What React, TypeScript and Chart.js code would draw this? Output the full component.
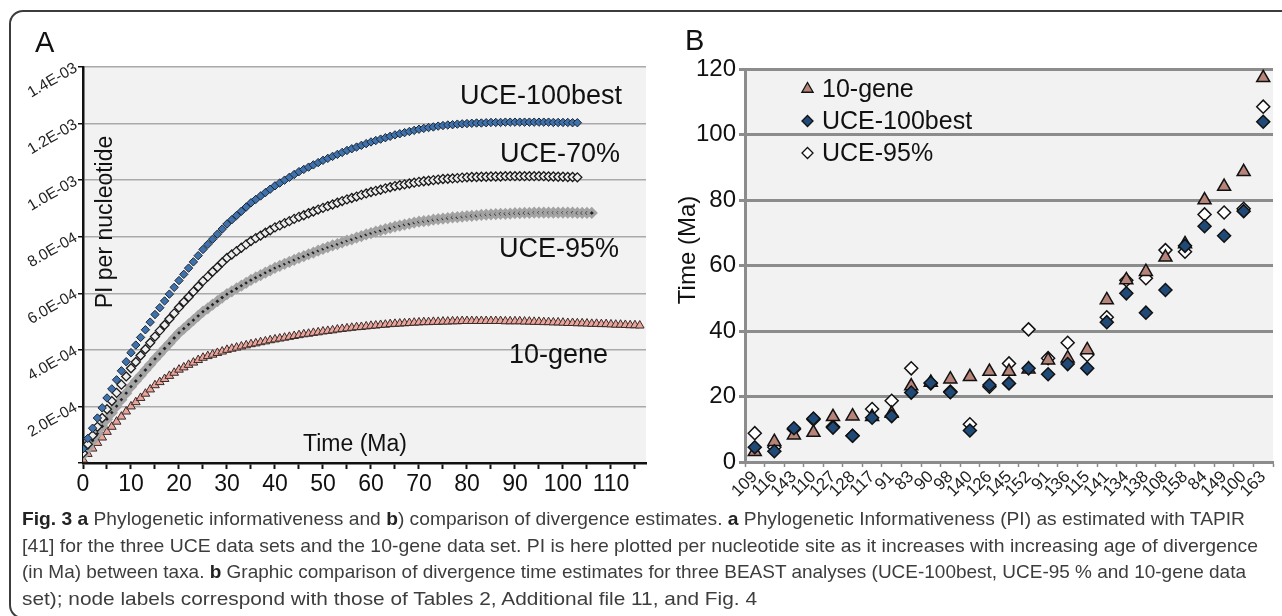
import React, { useEffect, useLayoutEffect, useRef } from 'react';
import { Chart, registerables } from 'chart.js';

Chart.register(...registerables);

const FAM = '"Liberation Sans", Arial, Helvetica, sans-serif';
const F = (size: number, weight = 'normal') => `${weight} ${size}px ${FAM}`;

// ---------- Panel A: phylogenetic informativeness (units of 1E-04), one value per Ma from 0 ----------
const piUce100best = [
  0.50, 0.87, 1.23, 1.59, 1.95, 2.30,
  2.62, 2.94, 3.26, 3.58, 3.90,
  4.17, 4.44, 4.71, 4.98, 5.25,
  5.49, 5.73, 5.97, 6.21, 6.45,
  6.67, 6.89, 7.11, 7.33, 7.55,
  7.73, 7.91, 8.09, 8.27, 8.45,
  8.60, 8.75, 8.90, 9.05, 9.20,
  9.32, 9.44, 9.56, 9.68, 9.80,
  9.90, 10.00, 10.10, 10.20, 10.30,
  10.38, 10.46, 10.54, 10.62, 10.70,
  10.77, 10.84, 10.91, 10.98, 11.05,
  11.11, 11.17, 11.23, 11.29, 11.35,
  11.40, 11.45, 11.50, 11.55, 11.60,
  11.64, 11.68, 11.72, 11.76, 11.80,
  11.83, 11.86, 11.88, 11.91, 11.93,
  11.95, 11.96, 11.98, 11.99, 12.00,
  12.01, 12.02, 12.02, 12.03, 12.04,
  12.04, 12.04, 12.05, 12.05, 12.05,
  12.05, 12.05, 12.05, 12.05, 12.05,
  12.05, 12.05, 12.04, 12.04, 12.04,
  12.04, 12.03, 12.03,
];

const piUce70 = [
  0.35, 0.66, 0.97, 1.28, 1.59, 1.90,
  2.19, 2.48, 2.77, 3.06, 3.35,
  3.57, 3.80, 4.02, 4.25, 4.47,
  4.68, 4.88, 5.09, 5.29, 5.50,
  5.69, 5.87, 6.06, 6.24, 6.43,
  6.59, 6.76, 6.92, 7.09, 7.25,
  7.37, 7.49, 7.61, 7.73, 7.85,
  7.95, 8.04, 8.14, 8.23, 8.33,
  8.40, 8.48, 8.55, 8.63, 8.70,
  8.76, 8.83, 8.89, 8.96, 9.02,
  9.08, 9.14, 9.20, 9.26, 9.32,
  9.37, 9.42, 9.48, 9.53, 9.58,
  9.62, 9.66, 9.71, 9.75, 9.79,
  9.82, 9.85, 9.88, 9.91, 9.94,
  9.96, 9.98, 10.00, 10.02, 10.04,
  10.05, 10.06, 10.07, 10.09, 10.10,
  10.11, 10.11, 10.12, 10.12, 10.13,
  10.13, 10.13, 10.14, 10.14, 10.14,
  10.14, 10.14, 10.14, 10.14, 10.14,
  10.14, 10.13, 10.13, 10.12, 10.12,
  10.11, 10.11, 10.10,
];

const piUce95 = [
  0.28, 0.53, 0.79, 1.04, 1.30, 1.55,
  1.78, 2.01, 2.24, 2.47, 2.70,
  2.90, 3.09, 3.29, 3.48, 3.68,
  3.86, 4.05, 4.23, 4.42, 4.60,
  4.75, 4.90, 5.05, 5.20, 5.35,
  5.47, 5.60, 5.72, 5.85, 5.97,
  6.07, 6.17, 6.27, 6.37, 6.47,
  6.56, 6.64, 6.73, 6.81, 6.90,
  6.97, 7.04, 7.11, 7.18, 7.25,
  7.31, 7.38, 7.44, 7.51, 7.57,
  7.63, 7.69, 7.74, 7.80, 7.86,
  7.91, 7.97, 8.02, 8.08, 8.13,
  8.18, 8.22, 8.27, 8.31, 8.36,
  8.39, 8.43, 8.46, 8.50, 8.53,
  8.55, 8.57, 8.60, 8.62, 8.64,
  8.66, 8.68, 8.69, 8.71, 8.73,
  8.74, 8.75, 8.77, 8.78, 8.79,
  8.80, 8.81, 8.81, 8.82, 8.83,
  8.83, 8.84, 8.84, 8.85, 8.85,
  8.85, 8.85, 8.85, 8.85, 8.85,
  8.85, 8.85, 8.84, 8.84, 8.84, 8.84,
];

const pi10gene = [
  0.12, 0.32, 0.51, 0.71, 0.90, 1.10,
  1.28, 1.46, 1.64, 1.82, 2.00,
  2.15, 2.30, 2.45, 2.60, 2.75,
  2.86, 2.97, 3.08, 3.19, 3.30,
  3.38, 3.47, 3.55, 3.64, 3.72,
  3.78, 3.83, 3.89, 3.94, 4.00,
  4.04, 4.08, 4.12, 4.16, 4.20,
  4.23, 4.27, 4.30, 4.34, 4.37,
  4.40, 4.43, 4.46, 4.49, 4.52,
  4.55, 4.57, 4.60, 4.62, 4.65,
  4.67, 4.69, 4.72, 4.74, 4.76,
  4.78, 4.80, 4.81, 4.83, 4.85,
  4.86, 4.88, 4.89, 4.91, 4.92,
  4.93, 4.94, 4.95, 4.96, 4.97,
  4.98, 4.98, 4.99, 4.99, 5.00,
  5.00, 5.01, 5.01, 5.02, 5.02,
  5.02, 5.02, 5.02, 5.02, 5.02,
  5.02, 5.02, 5.01, 5.01, 5.01,
  5.01, 5.00, 5.00, 4.99, 4.99,
  4.98, 4.98, 4.97, 4.97, 4.96,
  4.95, 4.95, 4.94, 4.94, 4.93,
  4.92, 4.92, 4.91, 4.91, 4.90,
  4.89, 4.89, 4.88, 4.87, 4.87, 4.86,
];

const piTickLabels = ['', '2.0E-04', '4.0E-04', '6.0E-04', '8.0E-04', '1.0E-03', '1.2E-03', '1.4E-03'];
const seriesNamesA = ['UCE-100best', 'UCE-70%', 'UCE-95%', '10-gene'];

// ---------- Panel B: divergence time estimates (Ma) per node ----------
const nodeLabels = ['109', '116', '143', '110', '127', '128', '117', '91', '83', '90', '98', '140', '126', '145', '152', '91', '136', '115', '141', '134', '138', '108', '158', '84', '149', '100', '163'];
const time10gene = [3.1, 6.2, 8.2, 9.0, 13.8, 14.0, 13.8, 14.8, 23.2, 24.3, 25.3, 26.0, 27.6, 27.6, 28.3, 31.1, 31.7, 34.2, 49.5, 55.6, 58.1, 62.5, 66.6, 80.0, 84.1, 88.6, 117.3];
const timeUce100best = [4.5, 3.3, 10.3, 13.3, 10.5, 8.0, 13.5, 14.0, 21.2, 24.2, 21.3, 9.6, 23.5, 24.0, 28.6, 26.8, 29.9, 28.6, 42.7, 51.5, 45.6, 52.5, 66.0, 72.0, 69.1, 76.6, 103.9];
const timeUce95 = [8.8, 4.5, 10.0, 13.0, 10.8, 8.0, 16.2, 18.7, 28.6, 24.0, 21.5, 11.5, 23.0, 30.1, 40.5, 31.7, 36.4, 32.7, 44.2, 55.5, 56.1, 64.7, 64.2, 75.6, 76.2, 77.3, 108.5];
const seriesNamesB = ['10-gene', 'UCE-100best', 'UCE-95%'];

// ---------- Caption ----------
const captionLines: [string, boolean][][] = [
  [['Fig. 3 a', true], [' Phylogenetic informativeness and ', false], ['b', true], [') comparison of divergence estimates. ', false], ['a', true], [' Phylogenetic Informativeness (PI) as estimated with TAPIR', false]],
  [['[41] for the three UCE data sets and the 10-gene data set. PI is here plotted per nucleotide site as it increases with increasing age of divergence', false]],
  [['(in Ma) between taxa. ', false], ['b', true], [' Graphic comparison of divergence time estimates for three BEAST analyses (UCE-100best, UCE-95 % and 10-gene data', false]],
  [['set); node labels correspond with those of Tables 2, Additional file 11, and Fig. 4', false]],
];
const captionLineWidths = [1223, 1236, 1224, 735];

type TextItem = { text: string; x: number; y: number; font: string; align?: CanvasTextAlign; baseline?: CanvasTextBaseline; rotate?: number; color?: string };

const textPlugin = (items: TextItem[]) => ({
  id: 'extraText',
  afterDraw(chart: any) {
    const ctx = chart.ctx as CanvasRenderingContext2D;
    for (const t of items) {
      ctx.save();
      ctx.font = t.font;
      ctx.fillStyle = t.color || '#111';
      ctx.textAlign = t.align || 'left';
      ctx.textBaseline = t.baseline || 'alphabetic';
      ctx.translate(t.x, t.y);
      if (t.rotate) ctx.rotate(t.rotate);
      ctx.fillText(t.text, 0, 0);
      ctx.restore();
    }
  },
});

const bgPlugin = (color: string) => ({
  id: 'plotBg',
  beforeDraw(chart: any) {
    const { ctx, chartArea } = chart;
    if (!chartArea) return;
    ctx.save();
    ctx.fillStyle = color;
    ctx.fillRect(chartArea.left, chartArea.top, chartArea.right - chartArea.left, chartArea.bottom - chartArea.top);
    ctx.restore();
  },
});

function drawMarker(ctx: CanvasRenderingContext2D, style: string, x: number, y: number, r: number, fill: string, stroke: string, lw: number) {
  ctx.beginPath();
  if (style === 'triangle') {
    ctx.moveTo(x, y - r);
    ctx.lineTo(x + r * 0.866, y + r * 0.5);
    ctx.lineTo(x - r * 0.866, y + r * 0.5);
  } else {
    ctx.moveTo(x, y - r);
    ctx.lineTo(x + r, y);
    ctx.lineTo(x, y + r);
    ctx.lineTo(x - r, y);
  }
  ctx.closePath();
  ctx.fillStyle = fill;
  ctx.fill();
  ctx.lineWidth = lw;
  ctx.strokeStyle = stroke;
  ctx.stroke();
}

const legendPluginB = {
  id: 'legendB',
  afterDraw(chart: any) {
    const ctx = chart.ctx as CanvasRenderingContext2D;
    const styles = [
      { shape: 'triangle', r: 6.5, fill: '#b7847a', y: 97 },
      { shape: 'rectRot', r: 5.5, fill: '#1f4a78', y: 129 },
      { shape: 'rectRot', r: 5.5, fill: '#ffffff', y: 161 },
    ];
    seriesNamesB.forEach((name, i) => {
      const s = styles[i];
      ctx.save();
      drawMarker(ctx, s.shape, 147.5, s.y - 8, s.r, s.fill, '#111', 1.3);
      ctx.font = F(25);
      ctx.fillStyle = '#111';
      ctx.textAlign = 'left';
      ctx.textBaseline = 'alphabetic';
      ctx.fillText(name, 162, s.y);
      ctx.restore();
    });
  },
};

function configA(): any {
  const toPts = (arr: number[]) => arr.map((v, i) => ({ x: i, y: v }));
  return {
    type: 'scatter',
    data: {
      datasets: [
        { label: seriesNamesA[0], data: toPts(piUce100best), pointStyle: 'rectRot', pointRadius: 4.2, backgroundColor: '#3f72ad', borderColor: '#1a2633', borderWidth: 1, order: 0 },
        { label: seriesNamesA[1], data: toPts(piUce70), pointStyle: 'rectRot', pointRadius: 4.5, backgroundColor: '#eeeeee', borderColor: '#1a1a1a', borderWidth: 1.3, order: 1 },
        { label: seriesNamesA[2], data: toPts(piUce95), pointStyle: 'rectRot', pointRadius: 4, backgroundColor: '#222222', borderColor: '#a3a3a3', borderWidth: 3, order: 2 },
        { label: seriesNamesA[3], data: toPts(pi10gene), pointStyle: 'triangle', pointRadius: 5, backgroundColor: '#e9a49b', borderColor: '#3a2a28', borderWidth: 1, order: 3 },
      ],
    },
    options: {
      responsive: false,
      animation: false,
      devicePixelRatio: 1,
      layout: { padding: { top: 67, right: 14, left: 0, bottom: 0 } },
      plugins: { legend: { display: false }, tooltip: { enabled: false } },
      elements: { point: { hoverRadius: 4 } },
      scales: {
        x: {
          type: 'linear', min: 0, max: 117.3,
          ticks: {
            stepSize: 5, autoSkip: false, includeBounds: false, maxRotation: 0, minRotation: 0, padding: 2,
            color: '#111', font: { family: FAM, size: 23 },
            callback: (v: number) => (v % 10 === 0 ? String(v) : ''),
          },
          grid: { drawOnChartArea: false, drawTicks: true, tickLength: 6, tickColor: '#111', tickWidth: 2 },
          border: { display: true, color: '#111', width: 2.5 },
          afterFit: (s: any) => { s.height = 42; },
        },
        y: {
          min: 0, max: 14,
          ticks: {
            stepSize: 2, minRotation: 30, maxRotation: 30, padding: 2,
            color: '#222', font: { family: FAM, size: 15.5 },
            callback: (v: number) => piTickLabels[Math.round(v / 2)] ?? '',
          },
          grid: { color: '#a9a9a9', lineWidth: 1.5, tickLength: 5, tickColor: '#111', tickWidth: 1.5 },
          border: { color: '#111', width: 2.5 },
          afterFit: (s: any) => { s.width = 83; },
        },
      },
    },
    plugins: [
      bgPlugin('#f2f2f2'),
      textPlugin([
        { text: 'A', x: 35, y: 52, font: F(29) },
        { text: seriesNamesA[0], x: 622, y: 104, font: F(27), align: 'right' },
        { text: seriesNamesA[1], x: 620, y: 162, font: F(27), align: 'right' },
        { text: seriesNamesA[2], x: 619, y: 257, font: F(27), align: 'right' },
        { text: seriesNamesA[3], x: 608, y: 363, font: F(27), align: 'right' },
        { text: 'Time (Ma)', x: 355, y: 451, font: F(23), align: 'center' },
        { text: 'PI per nucleotide', x: 106, y: 222, font: F(23), align: 'center', baseline: 'middle', rotate: -Math.PI / 2 },
      ]),
    ],
  };
}

function configB(): any {
  return {
    type: 'line',
    data: {
      labels: nodeLabels,
      datasets: [
        { label: seriesNamesB[1], data: timeUce100best, showLine: false, pointStyle: 'rectRot', pointRadius: 6.5, backgroundColor: '#1f4a78', borderColor: '#111', borderWidth: 1.5, order: 0 },
        { label: seriesNamesB[0], data: time10gene, showLine: false, pointStyle: 'triangle', pointRadius: 7.5, backgroundColor: '#b7847a', borderColor: '#111', borderWidth: 1.5, order: 1 },
        { label: seriesNamesB[2], data: timeUce95, showLine: false, pointStyle: 'rectRot', pointRadius: 6.5, backgroundColor: '#ffffff', borderColor: '#111', borderWidth: 1.5, order: 2 },
      ],
    },
    options: {
      responsive: false,
      animation: false,
      devicePixelRatio: 1,
      layout: { padding: { top: 69, right: 9, left: 0, bottom: 0 } },
      plugins: { legend: { display: false }, tooltip: { enabled: false } },
      scales: {
        x: {
          type: 'category', offset: true,
          ticks: { autoSkip: false, minRotation: 45, maxRotation: 45, padding: 0, color: '#222', font: { family: FAM, size: 17 } },
          grid: { drawOnChartArea: false, tickLength: 5, tickColor: '#8a8a8a', tickWidth: 1.5, offset: true },
          border: { color: '#8c8c8c', width: 3 },
          afterFit: (s: any) => { s.height = 48; },
        },
        y: {
          min: 0, max: 120,
          ticks: { stepSize: 20, padding: 3, color: '#111', font: { family: FAM, size: 24 } },
          grid: { color: '#8c8c8c', lineWidth: 3, tickLength: 6, tickColor: '#8c8c8c', tickWidth: 3 },
          border: { color: '#8c8c8c', width: 3 },
          afterFit: (s: any) => { s.width = 85; },
        },
      },
    },
    plugins: [
      bgPlugin('#f2f2f2'),
      legendPluginB,
      textPlugin([
        { text: 'B', x: 25, y: 50, font: F(29) },
        { text: 'Time (Ma)', x: 28, y: 250, font: F(24), align: 'center', baseline: 'middle', rotate: -Math.PI / 2 },
      ]),
    ],
  };
}

function Caption() {
  const refs = useRef<(HTMLSpanElement | null)[]>([]);
  useLayoutEffect(() => {
    captionLineWidths.forEach((w, i) => {
      const el = refs.current[i];
      if (!el) return;
      el.style.transform = '';
      const nat = el.getBoundingClientRect().width;
      if (nat > 0) el.style.transform = `scaleX(${w / nat})`;
    });
  }, []);
  return (
    <div style={{ position: 'absolute', left: 22, top: 506, fontFamily: FAM, fontSize: 19, lineHeight: '26.7px', color: '#3d3d3d' }}>
      {captionLines.map((line, i) => (
        <div key={i} style={{ height: 26.7, whiteSpace: 'nowrap' }}>
          <span ref={(el) => { refs.current[i] = el; }} style={{ display: 'inline-block', transformOrigin: 'left center', whiteSpace: 'nowrap' }}>
            {line.map(([t, b], j) => (
              <span key={j} style={b ? { fontWeight: 'bold', color: '#222' } : undefined}>{t}</span>
            ))}
          </span>
        </div>
      ))}
    </div>
  );
}

export default function App() {
  const refA = useRef<HTMLCanvasElement>(null);
  const refB = useRef<HTMLCanvasElement>(null);
  useEffect(() => {
    const a = new Chart(refA.current as HTMLCanvasElement, configA());
    const b = new Chart(refB.current as HTMLCanvasElement, configB());
    return () => { a.destroy(); b.destroy(); };
  }, []);
  return (
    <div style={{ position: 'absolute', left: 0, top: 0, width: 1282, height: 616, overflow: 'hidden', background: '#fff' }}>
      <div style={{ position: 'absolute', left: 9, top: 10, width: 1400, height: 609, border: '2px solid #3c3c3c', borderRadius: 14, boxSizing: 'border-box' }} />
      <canvas ref={refA} width={660} height={505} style={{ position: 'absolute', left: 0, top: 0 }} />
      <canvas ref={refB} width={622} height={510} style={{ position: 'absolute', left: 660, top: 0 }} />
      <Caption />
    </div>
  );
}
